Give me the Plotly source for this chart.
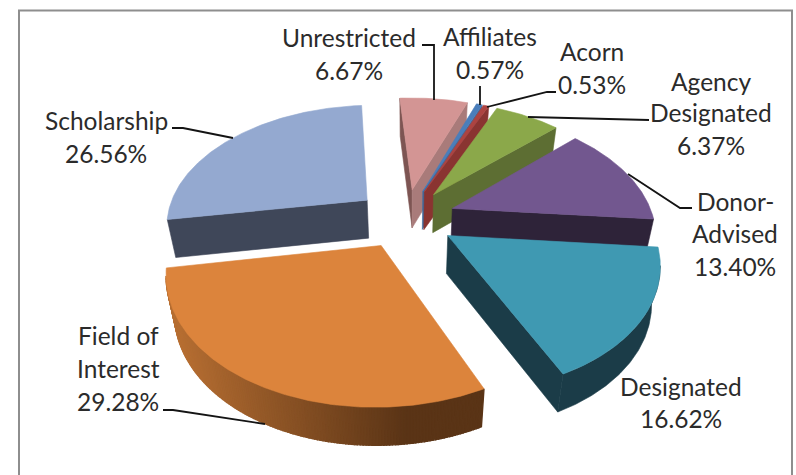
import math
import plotly.graph_objects as go

# ---- data ----
categories = ["Unrestricted", "Affiliates", "Acorn", "Agency Designated",
              "Donor-Advised", "Designated", "Field of Interest", "Scholarship"]
values = [6.67, 0.57, 0.53, 6.37, 13.40, 16.62, 29.28, 26.56]
value_labels = ["6.67%", "0.57%", "0.53%", "6.37%", "13.40%", "16.62%", "29.28%", "26.56%"]

# ---- styles ----
top_colors = ["#d39594", "#4a7ebb", "#ad4340", "#8ba84a", "#72578f", "#3f99b2", "#dc843c", "#94a9d0"]
side_colors = ["#a97b7a", "#3f6a9c", "#8a3431", "#5d6e33", "#2e2339", "#1b3c48", "#5a3416", "#3f4759"]
far_side_colors = ["#7d5553", "#3f6a9c", "#8a3431", "#5d6e33", "#2e2339", "#1b3c48", "#5a3416", "#3f4759"]

# ---- projection of the exploded 3-D pie ----
START_DEG = -4.0
PULL = 0.25
CX, CY = 405.5, 218.0
RX, RY = 201.0, 119.0
PERSP = 0.19
THICK = 38.0
BOTTOM_SQUEEZE = 0.035
BOTTOM_CX = 410.0


def project(X, D):
    s = 1.0 / (1.0 - PERSP * D)
    return CX + RX * X * s, CY + RY * D * s


def to_bottom(p):
    return p[0] - BOTTOM_SQUEEZE * (p[0] - BOTTOM_CX), p[1] + THICK


def polar(deg):
    a = math.radians(deg)
    return math.sin(a), -math.cos(a)


fig = go.Figure()


def poly(points, color, lw=0.6):
    xs = [p[0] for p in points] + [points[0][0]]
    ys = [p[1] for p in points] + [points[0][1]]
    fig.add_trace(go.Scatter(x=xs, y=ys, mode="lines", fill="toself", fillcolor=color,
                             line=dict(color=color, width=lw), hoverinfo="skip", showlegend=False))


def mix(c1, c2, t):
    return "rgb(%d,%d,%d)" % tuple(round(a + (b - a) * t) for a, b in zip(c1, c2))


slices = []
total = sum(values)
cum = 0.0
for i, v in enumerate(values):
    a0 = START_DEG + cum / total * 360.0
    a1 = START_DEG + (cum + v) / total * 360.0
    mid = (a0 + a1) / 2
    cum += v
    px, pd = polar(mid)
    slices.append(dict(i=i, a0=a0, a1=a1, px=px * PULL, pd=pd * PULL, depth=pd))

for sl in sorted(slices, key=lambda s: s["depth"]):
    i = sl["i"]
    n = max(4, int((sl["a1"] - sl["a0"]) * 1.5))
    rim = []
    for k in range(n + 1):
        X, D = polar(sl["a0"] + (sl["a1"] - sl["a0"]) * k / n)
        rim.append(project(X + sl["px"], D + sl["pd"]))
    apex = project(sl["px"], sl["pd"])
    outline = [apex] + rim  # clockwise on screen

    # radial faces: visible when the outward normal points down the screen
    if rim[0][0] < apex[0]:
        poly([apex, rim[0], to_bottom(rim[0]), to_bottom(apex)], far_side_colors[i])
    if apex[0] < rim[-1][0]:
        poly([rim[-1], apex, to_bottom(apex), to_bottom(rim[-1])], side_colors[i])

    # curved rim: the run of rim segments that faces the viewer
    run = [j for j in range(len(rim) - 1) if rim[j + 1][0] < rim[j][0]]
    if run:
        if categories[i] == "Field of Interest":
            for j in run:
                p, q = rim[j], rim[j + 1]
                t = min(1.0, max(0.0, ((p[0] + q[0]) / 2 - 175.0) / 230.0))
                poly([p, q, to_bottom(q), to_bottom(p)], mix((182, 110, 50), (90, 52, 22), t), lw=1.4)
        else:
            top = [rim[j] for j in run] + [rim[run[-1] + 1]]
            poly(top + [to_bottom(p) for p in reversed(top)], side_colors[i])
    poly(outline, top_colors[i])

# ---- leader lines ----
leaders = [
    [(422, 45), (434, 45), (434, 100)],
    [(480, 86), (480, 105)],
    [(487, 107), (547, 92), (556, 92)],
    [(528, 117), (649, 120)],
    [(628, 174), (680, 208), (692, 208)],
    [(172, 128), (183, 128), (233, 138)],
    [(163, 410), (173, 410), (265, 424)],
]
for pts in leaders:
    fig.add_trace(go.Scatter(x=[p[0] for p in pts], y=[p[1] for p in pts], mode="lines",
                             line=dict(color="#141414", width=1.8), hoverinfo="skip", showlegend=False))

# ---- labels (x centre, y of each line) ----
label_lines = [
    (["Unrestricted", value_labels[0]], 349, [37, 70]),
    (["Affiliates", value_labels[1]], 490, [36, 69]),
    (["Acorn", value_labels[2]], 592, [51, 84]),
    (["Agency", "Designated", value_labels[3]], 711, [81, 112, 145]),
    (["Donor-", "Advised", value_labels[4]], 735, [201, 233, 266]),
    (["Designated", value_labels[5]], 681, [386, 418]),
    (["Field of", "Interest", value_labels[6]], 118, [335, 368, 401]),
    (["Scholarship", value_labels[7]], 106, [120, 153]),
]
annotations = []
for lines, x, ys in label_lines:
    for text, y in zip(lines, ys):
        annotations.append(dict(x=x, y=y, text=text, showarrow=False, xanchor="center", yanchor="middle",
                                font=dict(family="Lato", size=24.5, color="#2b2b2b")))

fig.update_layout(
    width=796, height=475, margin=dict(l=0, r=0, t=0, b=0),
    paper_bgcolor="white", plot_bgcolor="white", showlegend=False,
    xaxis=dict(range=[0, 796], visible=False, fixedrange=True),
    yaxis=dict(range=[475, 0], visible=False, fixedrange=True),
    annotations=annotations,
    shapes=[dict(type="rect", x0=19, y0=10.5, x1=792, y1=500, layer="below",
                 line=dict(color="#8e8e8e", width=2), fillcolor="white")],
)
fig.write_html("out.html", config={"displayModeBar": False},
               post_script="document.body.style.margin='0';document.body.style.overflow='hidden';")
